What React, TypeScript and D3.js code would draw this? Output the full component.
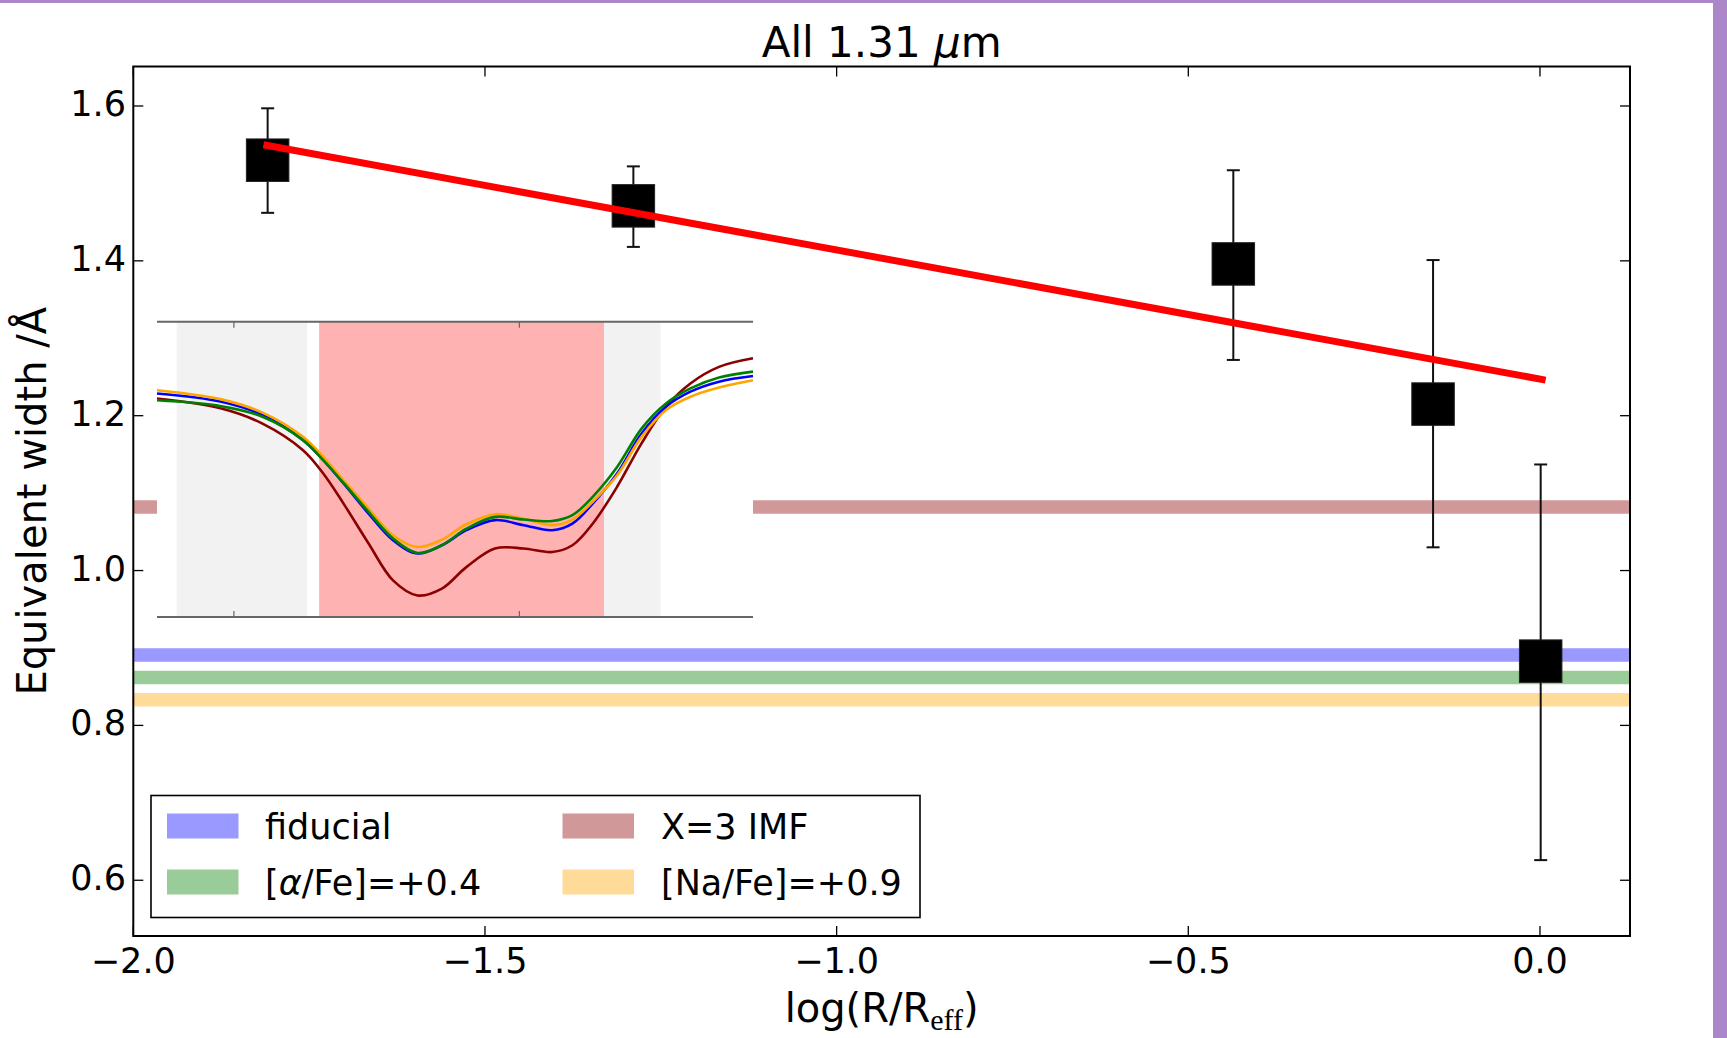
import React from 'react';
import * as d3 from 'd3';

const W = 1727;
const H = 1038;

// radial bins: log(R/Reff) and equivalent width with error bars
const logR = [-1.809, -1.289, -0.436, -0.152, 0.001];
const eqw = [1.530, 1.471, 1.396, 1.215, 0.883];
const eqwHi = [1.597, 1.522, 1.517, 1.401, 1.137];
const eqwLo = [1.462, 1.418, 1.272, 1.030, 0.626];

// linear gradient fit
const fitX = [-1.815, 0.008];
const fitY = [1.550, 1.246];

// model predictions (horizontal bands), legend order is column-wise
const modelKeys = ['fiducial', 'alpha', 'imf', 'na'];
const modelLevels = [0.891, 0.862, 1.082, 0.833];
const modelColors = ['#9999ff', '#99cc99', '#d09898', '#ffdb99'];
const modelLineColors = ['#0000ff', '#008000', '#8b0000', '#ffa500'];

const xTicks = [-2.0, -1.5, -1.0, -0.5, 0.0];
const yTicks = [0.6, 0.8, 1.0, 1.2, 1.4, 1.6];

// inset: spectra around the feature (normalised units)
const insetX = [0, 0.108, 0.177, 0.245, 0.279, 0.313, 0.355, 0.396, 0.437, 0.478, 0.519,
  0.567, 0.615, 0.663, 0.697, 0.731, 0.772, 0.813, 0.854, 0.895, 0.943, 1];
const fluxFiducial = [0.757, 0.729, 0.684, 0.599, 0.531, 0.452, 0.350, 0.260, 0.215, 0.243, 0.294,
  0.328, 0.311, 0.294, 0.316, 0.384, 0.486, 0.621, 0.712, 0.763, 0.797, 0.816];
const fluxAlpha = [0.734, 0.714, 0.678, 0.599, 0.531, 0.454, 0.356, 0.266, 0.217, 0.243, 0.299,
  0.339, 0.330, 0.325, 0.345, 0.407, 0.508, 0.638, 0.723, 0.774, 0.811, 0.831];
const fluxImf = [0.740, 0.706, 0.655, 0.565, 0.486, 0.384, 0.249, 0.124, 0.073, 0.096, 0.169,
  0.232, 0.232, 0.220, 0.243, 0.316, 0.441, 0.588, 0.712, 0.791, 0.847, 0.876];
const fluxNa = [0.768, 0.737, 0.692, 0.610, 0.542, 0.463, 0.367, 0.277, 0.237, 0.262, 0.314,
  0.348, 0.333, 0.311, 0.330, 0.390, 0.480, 0.610, 0.701, 0.746, 0.777, 0.802];
const sideBands = [[0.033, 0.252], [0.750, 0.845]];
const featureBand = [0.272, 0.750];
const insetTicks = [0.129, 0.608];

const FONT = '"DejaVu Sans", sans-serif';

function fmt(v: number) {
  const s = Math.abs(v).toFixed(1);
  return v < 0 ? '\u2212' + s : s;
}

export default function App() {
  const m = { left: 133.3, right: 1630, top: 66.5, bottom: 936 };
  const x = d3.scaleLinear().domain([-2.0, 0.128]).range([m.left, m.right]);
  const y = d3.scaleLinear().domain([0.528, 1.651]).range([m.bottom, m.top]);

  // inset placement
  const ix = d3.scaleLinear().domain([0, 1]).range([157, 753]);
  const iy = d3.scaleLinear().domain([0, 1]).range([617, 321.7]);
  const spec = d3.line<number>()
    .x((_, i) => ix(insetX[i]))
    .y((d) => iy(d))
    .curve(d3.curveCatmullRom.alpha(0.5));

  const fitLine = d3.line<number>().x((d) => x(d)).y((_, i) => y(fitY[i]));
  const sq = 42.5;
  const tick = 10;

  const legendItems = [
    { key: 'fiducial', col: 0, row: 0 },
    { key: 'alpha', col: 0, row: 1 },
    { key: 'imf', col: 1, row: 0 },
    { key: 'na', col: 1, row: 1 },
  ];
  const legendText = (key: string) => {
    if (key === 'fiducial') return <tspan>fiducial</tspan>;
    if (key === 'imf') return <tspan>X=3 IMF</tspan>;
    if (key === 'alpha') return (<><tspan>[</tspan><tspan fontStyle="italic">α</tspan><tspan>/Fe]=+0.4</tspan></>);
    return <tspan>[Na/Fe]=+0.9</tspan>;
  };

  return (
    <svg width={W} height={H} style={{ position: 'absolute', left: 0, top: 0, background: '#fff' }}
      fontFamily={FONT}>
      <rect x={0} y={0} width={W} height={H} fill="#ffffff" />

      {/* model bands */}
      {modelKeys.map((k, i) => (
        <line key={k} x1={m.left} x2={m.right} y1={y(modelLevels[i])} y2={y(modelLevels[i])}
          stroke={modelColors[i]} strokeWidth={13.5} />
      ))}

      {/* inset */}
      <g>
        <rect x={ix(0)} y={iy(1)} width={ix(1) - ix(0)} height={iy(0) - iy(1)} fill="#fff" />
        {sideBands.map((b, i) => (
          <rect key={i} x={ix(b[0])} y={iy(1) + 1} width={ix(b[1]) - ix(b[0])} height={iy(0) - iy(1) - 2}
            fill="#f2f2f2" />
        ))}
        <rect x={ix(featureBand[0])} y={iy(1)} width={ix(featureBand[1]) - ix(featureBand[0])}
          height={iy(0) - iy(1)} fill="#ffb2b2" />
        <path d={spec(fluxImf) || ''} fill="none" stroke={modelLineColors[2]} strokeWidth={2.6} />
        <path d={spec(fluxFiducial) || ''} fill="none" stroke={modelLineColors[0]} strokeWidth={2.6} />
        <path d={spec(fluxNa) || ''} fill="none" stroke={modelLineColors[3]} strokeWidth={2.6} />
        <path d={spec(fluxAlpha) || ''} fill="none" stroke={modelLineColors[1]} strokeWidth={2.6} />
        <line x1={ix(0)} x2={ix(1)} y1={iy(1)} y2={iy(1)} stroke="#666" strokeWidth={2} />
        <line x1={ix(0)} x2={ix(1)} y1={iy(0)} y2={iy(0)} stroke="#666" strokeWidth={2} />
        {insetTicks.map((t) => (
          <g key={t} stroke="#666" strokeWidth={1.2}>
            <line x1={ix(t)} x2={ix(t)} y1={iy(1)} y2={iy(1) + 6} />
            <line x1={ix(t)} x2={ix(t)} y1={iy(0)} y2={iy(0) - 6} />
          </g>
        ))}
      </g>

      {/* error bars */}
      {logR.map((r, i) => (
        <g key={'e' + i} stroke="#111" strokeWidth={2}>
          <line x1={x(r)} x2={x(r)} y1={y(eqwHi[i])} y2={y(eqwLo[i])} />
          <line x1={x(r) - 6.5} x2={x(r) + 6.5} y1={y(eqwHi[i])} y2={y(eqwHi[i])} />
          <line x1={x(r) - 6.5} x2={x(r) + 6.5} y1={y(eqwLo[i])} y2={y(eqwLo[i])} />
        </g>
      ))}
      {logR.map((r, i) => (
        <rect key={'s' + i} x={x(r) - sq / 2} y={y(eqw[i]) - sq / 2} width={sq} height={sq}
          fill="#000" stroke="#222" strokeWidth={1} />
      ))}

      {/* fit */}
      <path d={fitLine(fitX) || ''} stroke="#ff0000" strokeWidth={7} fill="none" />

      {/* legend */}
      <rect x={151} y={795.5} width={769} height={122} fill="#fff" stroke="#000" strokeWidth={1.6} />
      {legendItems.map((it) => {
        const idx = modelKeys.indexOf(it.key);
        const hx = it.col === 0 ? 167 : 562.5;
        const tx = it.col === 0 ? 265 : 661;
        const hy = it.row === 0 ? 813.5 : 869.5;
        return (
          <g key={it.key}>
            <rect x={hx} y={hy} width={71.5} height={25} fill={modelColors[idx]} />
            <text x={tx} y={hy + 25} fontSize={35} fill="#000">{legendText(it.key)}</text>
          </g>
        );
      })}

      {/* frame and ticks */}
      <rect x={m.left} y={m.top} width={m.right - m.left} height={m.bottom - m.top}
        fill="none" stroke="#000" strokeWidth={2} />
      {xTicks.map((t) => (
        <g key={'x' + t} stroke="#000" strokeWidth={1.3}>
          <line x1={x(t)} x2={x(t)} y1={m.bottom} y2={m.bottom - tick} />
          <line x1={x(t)} x2={x(t)} y1={m.top} y2={m.top + tick} />
        </g>
      ))}
      {yTicks.map((t) => (
        <g key={'y' + t} stroke="#000" strokeWidth={1.3}>
          <line x1={m.left} x2={m.left + tick} y1={y(t)} y2={y(t)} />
          <line x1={m.right} x2={m.right - tick} y1={y(t)} y2={y(t)} />
        </g>
      ))}
      {xTicks.map((t) => (
        <text key={'xl' + t} x={x(t)} y={973} fontSize={35} textAnchor="middle" fill="#000">{fmt(t)}</text>
      ))}
      {yTicks.map((t) => (
        <text key={'yl' + t} x={126} y={y(t) + 10} fontSize={35} textAnchor="end" fill="#000">{fmt(t)}</text>
      ))}

      {/* title and axis labels */}
      <text x={(m.left + m.right) / 2} y={56.5} fontSize={42} textAnchor="middle" fill="#000">
        All 1.31 <tspan fontStyle="italic">μ</tspan>m
      </text>
      <text x={(m.left + m.right) / 2} y={1022} fontSize={40} textAnchor="middle" fill="#000">
        log(R/R<tspan fontFamily='"Liberation Serif", serif' fontSize={30} dy={8}>eff</tspan>
        <tspan dy={-8}>)</tspan>
      </text>
      <text transform={`translate(46, ${(m.top + m.bottom) / 2}) rotate(-90)`} fontSize={40}
        textAnchor="middle" fill="#000">Equivalent width /Å</text>

      {/* purple page border */}
      <rect x={0} y={0} width={W} height={3} fill="#ab86c9" />
      <rect x={1713} y={0} width={W - 1713} height={H} fill="#ab86c9" />
    </svg>
  );
}
